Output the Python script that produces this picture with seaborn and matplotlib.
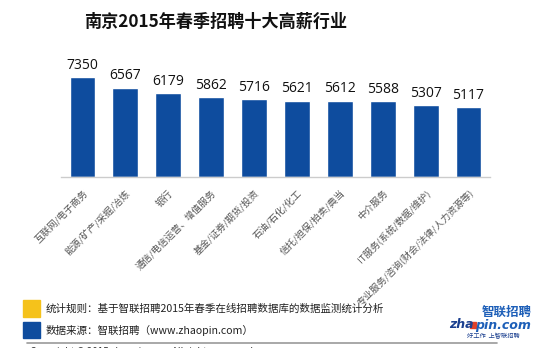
import matplotlib
matplotlib.use("Agg")
import matplotlib.pyplot as plt
import seaborn as sns
import pandas as pd
from matplotlib.patches import Rectangle
from matplotlib.lines import Line2D

categories = ["互联网/电子商务", "能源/矿产/采掘/冶炼", "银行", "通信/电信运营、增值服务",
              "基金/证券/期货/投资", "石油/石化/化工", "信托/担保/拍卖/典当", "中介服务",
              "IT服务(系统/数据/维护)", "专业服务/咨询(财会/法律/人力资源等)"]
salaries = [7350, 6567, 6179, 5862, 5716, 5621, 5612, 5588, 5307, 5117]

title = "南京2015年春季招聘十大高薪行业"
note1 = "统计规则：基于智联招聘2015年春季在线招聘数据库的数据监测统计分析"
note2 = "数据来源：智联招聘（www.zhaopin.com）"

sns.set_theme(style="white")
plt.rcParams['font.family'] = ['Noto Sans CJK SC', 'DejaVu Sans']

BLUE = "#0E4C9E"
YELLOW = "#F5C21B"

fig = plt.figure(figsize=(5.5, 3.48), dpi=100)
W, H = 550, 348
ax = fig.add_axes([61 / W, 1 - 177 / H, (490 - 61) / W, (177 - 60) / H])

df = pd.DataFrame({"industry": categories, "salary": salaries})
sns.barplot(data=df, x="industry", y="salary", color=BLUE, saturation=1,
            width=0.6, ax=ax)
ax.set_ylim(0, 8600)
ax.set_xlim(-0.5, len(categories) - 0.5)
for c in ax.containers:
    ax.bar_label(c, fmt="%d", padding=3, fontsize=10, color="#111111",
                 family=['Open Sans', 'DejaVu Sans'])

ax.set_xlabel("")
ax.set_ylabel("")
ax.set_yticks([])
for s in ["top", "right", "left"]:
    ax.spines[s].set_visible(False)
ax.spines["bottom"].set_color("#cccccc")
ax.spines["bottom"].set_linewidth(1)
ax.tick_params(axis="x", length=0, pad=8)
ax.set_xticks(range(len(categories)))
ax.set_xticklabels(categories, rotation=45, ha="right", rotation_mode="anchor",
                   fontsize=6.8, color="#555555")

fig.text(216 / W, 1 - 22 / H, title, ha="center", va="center", fontsize=12.3,
         fontweight="bold", color="#111111")

# footer
fig.patches.append(Rectangle((23 / W, 1 - 317 / H), 17 / W, 17 / H,
                             transform=fig.transFigure, color=YELLOW))
fig.patches.append(Rectangle((23 / W, 1 - 338 / H), 17 / W, 16 / H,
                             transform=fig.transFigure, color=BLUE))
fig.text(46 / W, 1 - 309 / H, note1, ha="left", va="center", fontsize=7.6,
         color="#222222")
fig.text(46 / W, 1 - 330 / H, note2, ha="left", va="center", fontsize=7.6,
         color="#222222")
fig.lines.append(Line2D([27 / W, 497 / W], [1 - 343 / H, 1 - 343 / H],
                        transform=fig.transFigure, color="#999999", lw=1.2))
fig.text(30 / W, 1 - 352 / H, "Copyright © 2015 zhaopin.com All rights reserved",
         ha="left", va="center", fontsize=7, color="#333333")

# logo
fig.text(532 / W, 1 - 312 / H, "智联招聘", ha="right", va="center", fontsize=9,
         fontweight="bold", style="italic", color="#1D5FB8")
fig.text(449 / W, 1 - 325 / H, "zha", ha="left", va="center", fontsize=9,
         fontweight="bold", style="italic", color="#1A3F8F",
         family=['DejaVu Sans'])
fig.text(531 / W, 1 - 325 / H, "pin.com", ha="right", va="center", fontsize=9,
         fontweight="bold", style="italic", color="#1D5FB8",
         family=['DejaVu Sans'])
fig.patches.append(Rectangle((470 / W, 1 - 328 / H), 6 / W, 6 / H,
                             transform=fig.transFigure, color="#E0402A"))
fig.text(520 / W, 1 - 336 / H, "好工作  上智联招聘", ha="right", va="center",
         fontsize=4.5, style="italic", color="#1A3F8F")

fig.savefig("out.png", dpi=100)
